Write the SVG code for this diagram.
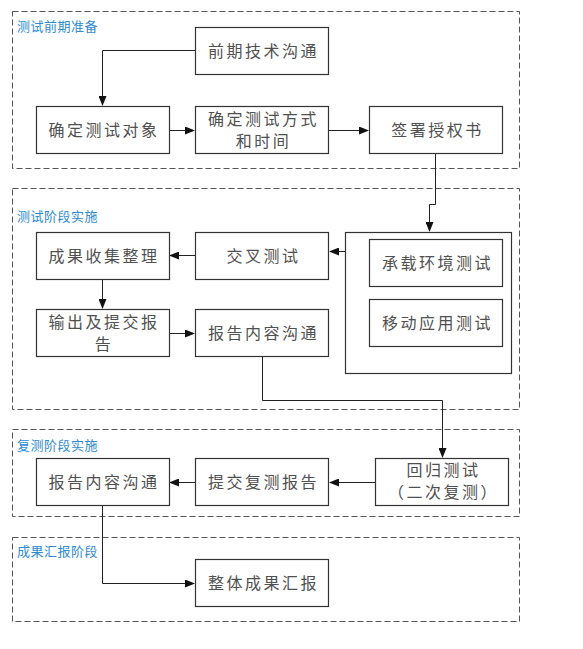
<svg xmlns="http://www.w3.org/2000/svg" width="583" height="649" viewBox="0 0 583 649">
<style>
.sec{fill:none;stroke:#555;stroke-width:1;stroke-dasharray:6,3}
.lbl{font-family:"Noto Sans CJK SC","Liberation Sans",sans-serif;font-size:13px;fill:#2e8bd0;letter-spacing:0.5px}
.box{fill:#fff;stroke:#333;stroke-width:1.2}
.t{font-family:"Noto Sans CJK SC","Liberation Sans",sans-serif;font-size:16px;fill:#505050;letter-spacing:2.5px;text-anchor:middle}
.c{fill:none;stroke:#222;stroke-width:1}
</style>
<defs>
<marker id="ah" markerWidth="10" markerHeight="8" refX="9" refY="4" orient="auto" markerUnits="userSpaceOnUse">
<path d="M0,0 L10,4 L0,8 Z" fill="#111"/>
</marker>
</defs>
<rect width="583" height="649" fill="#fff"/>
<g id="sections">
<rect class="sec" x="12.5" y="11.5" width="507" height="157"/>
<text class="lbl" x="17" y="31">测试前期准备</text>
<rect class="sec" x="12.5" y="188.5" width="507" height="221"/>
<text class="lbl" x="17" y="221">测试阶段实施</text>
<rect class="sec" x="12.5" y="429.5" width="507" height="87"/>
<text class="lbl" x="17" y="450">复测阶段实施</text>
<rect class="sec" x="12.5" y="537.5" width="507" height="84"/>
<text class="lbl" x="17" y="556">成果汇报阶段</text>
</g>
<g id="connectors">
<path class="c" d="M195,50.5 H102.5 V105" marker-end="url(#ah)"/>
<path class="c" d="M169,130.5 H194" marker-end="url(#ah)"/>
<path class="c" d="M329,130.5 H368" marker-end="url(#ah)"/>
<path class="c" d="M435.5,153 V204.5 H429.5 V231" marker-end="url(#ah)"/>
<path class="c" d="M345,251.5 H330" marker-end="url(#ah)"/>
<path class="c" d="M195,255.5 H170" marker-end="url(#ah)"/>
<path class="c" d="M102.5,279 V308" marker-end="url(#ah)"/>
<path class="c" d="M169,333.5 H194" marker-end="url(#ah)"/>
<path class="c" d="M262.5,356 V400.5 H442.5 V457" marker-end="url(#ah)"/>
<path class="c" d="M375,482.5 H330" marker-end="url(#ah)"/>
<path class="c" d="M195,482.5 H170" marker-end="url(#ah)"/>
<path class="c" d="M102.5,505 V583.5 H194" marker-end="url(#ah)"/>
</g>
<g id="n1"><rect class="box" x="195.5" y="27.5" width="133" height="47"/><text class="t" x="263.5" y="57">前期技术沟通</text></g>
<g id="n2"><rect class="box" x="36.5" y="106.5" width="133" height="47"/><text class="t" x="104" y="136">确定测试对象</text></g>
<g id="n3"><rect class="box" x="195.5" y="106.5" width="133" height="47"/><text class="t" x="263.5" y="124.5">确定测试方式</text><text class="t" x="263.5" y="146.5">和时间</text></g>
<g id="n4"><rect class="box" x="369.5" y="106.5" width="133" height="47"/><text class="t" x="437.5" y="136">签署授权书</text></g>
<g id="n5"><rect class="box" x="36.5" y="232.5" width="133" height="47"/><text class="t" x="104" y="262">成果收集整理</text></g>
<g id="n6"><rect class="box" x="195.5" y="232.5" width="133" height="47"/><text class="t" x="263.5" y="262">交叉测试</text></g>
<g id="n7"><rect class="box" x="345.5" y="232.5" width="166" height="141"/></g>
<g id="n8"><rect class="box" x="369.5" y="239.5" width="133" height="47"/><text class="t" x="437.5" y="269">承载环境测试</text></g>
<g id="n9"><rect class="box" x="369.5" y="299.5" width="133" height="47"/><text class="t" x="437.5" y="329">移动应用测试</text></g>
<g id="n10"><rect class="box" x="36.5" y="309.5" width="133" height="47"/><text class="t" x="104" y="327.5">输出及提交报</text><text class="t" x="104" y="349.5">告</text></g>
<g id="n11"><rect class="box" x="195.5" y="309.5" width="133" height="47"/><text class="t" x="263.5" y="339">报告内容沟通</text></g>
<g id="n12"><rect class="box" x="36.5" y="458.5" width="133" height="47"/><text class="t" x="104" y="488">报告内容沟通</text></g>
<g id="n13"><rect class="box" x="195.5" y="458.5" width="133" height="47"/><text class="t" x="263.5" y="488">提交复测报告</text></g>
<g id="n14"><rect class="box" x="375.5" y="458.5" width="133" height="47"/><text class="t" x="443.5" y="475.5">回归测试</text><text class="t" x="443.5" y="497.5">（二次复测）</text></g>
<g id="n15"><rect class="box" x="195.5" y="559.5" width="133" height="47"/><text class="t" x="263.5" y="589">整体成果汇报</text></g>
</svg>
